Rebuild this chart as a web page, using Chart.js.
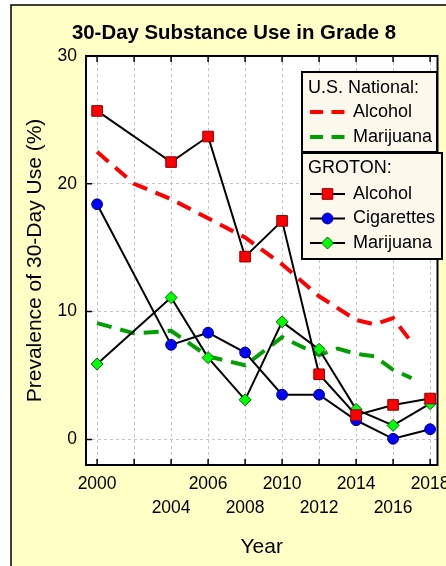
<!DOCTYPE html>
<html>
<head>
<meta charset="utf-8">
<script src="https://cdn.jsdelivr.net/npm/chart.js@4/dist/chart.umd.min.js"></script>
<style>
  html, body { margin: 0; padding: 0; overflow: hidden; background: #fff; }
  canvas { display: block; }
</style>
</head>
<body>
<canvas id="c" width="446" height="566"></canvas>
<script>
// ---- data ----
const grotonYears = [2000, 2004, 2006, 2008, 2010, 2012, 2014, 2016, 2018];
const grotonAlcohol = [25.7, 21.7, 23.7, 14.3, 17.1, 5.1, 1.9, 2.7, 3.2];
const grotonCigarettes = [18.4, 7.4, 8.35, 6.8, 3.5, 3.5, 1.5, 0.05, 0.8];
const grotonMarijuana = [5.9, 11.1, 6.4, 3.1, 9.2, 7.05, 2.35, 1.1, 2.8];

const nationalAlcoholYears = [2000, 2002, 2004, 2006, 2008, 2010, 2012, 2014, 2015, 2016, 2017];
const nationalAlcohol = [22.5, 20.0, 18.8, 17.3, 15.8, 13.7, 11.2, 9.35, 9.0, 9.5, 7.6];
const nationalMarijuanaYears = [2000, 2002, 2004, 2006, 2008, 2010, 2012, 2013, 2014, 2015, 2016, 2017];
const nationalMarijuana = [9.1, 8.3, 8.5, 6.5, 5.8, 8.0, 6.6, 7.1, 6.7, 6.5, 5.45, 4.8];

const xTickYears = [2000, 2002, 2004, 2006, 2008, 2010, 2012, 2014, 2016, 2018];
const xLabelsRow1 = ['2000', '2006', '2010', '2014', '2018'];
const xLabelsRow2 = ['2004', '2008', '2012', '2016'];
const yTickValues = [0, 10, 20, 30];

const legendHeaders = ['U.S. National:', 'GROTON:'];
const chartTitle = '30-Day Substance Use in Grade 8';
const xTitle = 'Year';
const yTitle = 'Prevalence of 30-Day Use (%)';

const pts = (xs, ys) => xs.map((x, i) => ({ x: x, y: ys[i] }));

Chart.defaults.font.family = '"Liberation Sans", Arial, sans-serif';
Chart.defaults.color = '#000';

const FONT = '"Liberation Sans", Arial, sans-serif';

const bgPlugin = {
  id: 'bg',
  beforeDraw(chart) {
    const ctx = chart.ctx, a = chart.chartArea;
    ctx.save();
    ctx.fillStyle = '#ffffff';
    ctx.fillRect(0, 0, chart.width, chart.height);
    ctx.fillStyle = '#ffffc6';
    ctx.fillRect(11, 5, chart.width, chart.height);
    ctx.strokeStyle = '#000';
    ctx.lineWidth = 1.5;
    ctx.beginPath();
    ctx.moveTo(11, chart.height + 5);
    ctx.lineTo(11, 5);
    ctx.lineTo(chart.width + 5, 5);
    ctx.stroke();
    ctx.fillStyle = '#ffffff';
    ctx.fillRect(a.left, a.top, a.right - a.left, a.bottom - a.top);
    ctx.restore();
  }
};

const frameLegendPlugin = {
  id: 'frameLegend',
  afterDraw(chart) {
    const ctx = chart.ctx, a = chart.chartArea;
    const xs = chart.scales.x, ys = chart.scales.y;
    ctx.save();
    // inner ticks
    ctx.strokeStyle = '#000';
    ctx.lineWidth = 1.5;
    ctx.beginPath();
    xs.ticks.forEach(t => {
      const px = xs.getPixelForValue(t.value);
      ctx.moveTo(px, a.bottom); ctx.lineTo(px, a.bottom - 6);
      ctx.moveTo(px, a.top); ctx.lineTo(px, a.top + 6);
    });
    ys.ticks.forEach(t => {
      const py = ys.getPixelForValue(t.value);
      ctx.moveTo(a.left, py); ctx.lineTo(a.left + 6, py);
    });
    ctx.stroke();
    // frame
    ctx.lineWidth = 2;
    ctx.strokeRect(a.left, a.top, a.right - a.left, a.bottom - a.top);

    // legend
    const ds = chart.data.datasets;
    const nat = ds.filter(d => d.group === 'national');
    const gro = ds.filter(d => d.group === 'groton');
    const bx = 302;
    ctx.font = '18px ' + FONT;
    ctx.textBaseline = 'middle';
    ctx.textAlign = 'left';

    // box 1
    ctx.fillStyle = '#fcf8ec';
    ctx.fillRect(bx, 72, 135, 80);
    ctx.lineWidth = 2;
    ctx.strokeStyle = '#000';
    ctx.strokeRect(bx, 72, 135, 80);
    ctx.fillStyle = '#000';
    ctx.fillText(legendHeaders[0], 308, 88);
    nat.forEach((d, i) => {
      const y = 112 + i * 25;
      ctx.save();
      ctx.strokeStyle = d.borderColor;
      ctx.lineWidth = d.borderWidth;
      ctx.setLineDash([13, 8.5]);
      ctx.beginPath(); ctx.moveTo(310, y); ctx.lineTo(345, y); ctx.stroke();
      ctx.restore();
      ctx.fillStyle = '#000';
      ctx.fillText(d.label, 353, y);
    });

    // box 2
    ctx.fillStyle = '#fcf8ec';
    ctx.fillRect(bx, 153, 140, 106);
    ctx.strokeStyle = '#000';
    ctx.lineWidth = 2;
    ctx.strokeRect(bx, 153, 140, 106);
    ctx.fillStyle = '#000';
    ctx.fillText(legendHeaders[1], 308, 168);
    gro.forEach((d, i) => {
      const y = 194 + i * 24.5;
      const cx = 327.5;
      ctx.strokeStyle = '#000';
      ctx.lineWidth = 2;
      ctx.beginPath(); ctx.moveTo(310, y); ctx.lineTo(345, y); ctx.stroke();
      ctx.fillStyle = d.pointBackgroundColor;
      ctx.strokeStyle = d.pointBorderColor;
      ctx.lineWidth = 1;
      ctx.beginPath();
      const r = d.pointRadius;
      if (d.pointStyle === 'rect') {
        const s = r * Math.SQRT1_2;
        ctx.rect(cx - s, y - s, 2 * s, 2 * s);
      } else if (d.pointStyle === 'circle') {
        ctx.arc(cx, y, r, 0, Math.PI * 2);
      } else {
        ctx.moveTo(cx - r, y); ctx.lineTo(cx, y - r); ctx.lineTo(cx + r, y); ctx.lineTo(cx, y + r); ctx.closePath();
      }
      ctx.fill(); ctx.stroke();
      ctx.fillStyle = '#000';
      ctx.fillText(d.label, 353, y);
    });
    ctx.restore();
  }
};

new Chart(document.getElementById('c'), {
  type: 'line',
  data: {
    datasets: [
      { label: 'Alcohol', group: 'groton', data: pts(grotonYears, grotonAlcohol),
        borderColor: '#000', borderWidth: 2, pointStyle: 'rect', pointRadius: 7.5,
        pointBackgroundColor: '#ff0000', pointBorderColor: '#8b0000', pointBorderWidth: 1, tension: 0 },
      { label: 'Cigarettes', group: 'groton', data: pts(grotonYears, grotonCigarettes),
        borderColor: '#000', borderWidth: 2, pointStyle: 'circle', pointRadius: 5.4,
        pointBackgroundColor: '#0000ff', pointBorderColor: '#000080', pointBorderWidth: 1, tension: 0 },
      { label: 'Marijuana', group: 'groton', data: pts(grotonYears, grotonMarijuana),
        borderColor: '#000', borderWidth: 2, pointStyle: 'rectRot', pointRadius: 6,
        pointBackgroundColor: '#00ff00', pointBorderColor: '#006400', pointBorderWidth: 1, tension: 0 },
      { label: 'Alcohol', group: 'national', data: pts(nationalAlcoholYears, nationalAlcohol),
        borderColor: '#ff0000', borderWidth: 4, borderDash: [15, 9], pointRadius: 0, tension: 0 },
      { label: 'Marijuana', group: 'national', data: pts(nationalMarijuanaYears, nationalMarijuana),
        borderColor: '#00a000', borderWidth: 4, borderDash: [15, 9], pointRadius: 0, tension: 0 }
    ]
  },
  options: {
    responsive: false,
    animation: false,
    devicePixelRatio: 1,
    layout: { padding: { left: 24, right: 2, top: 0, bottom: 0 } },
    plugins: {
      legend: { display: false },
      tooltip: { enabled: false },
      title: {
        display: true, text: chartTitle, color: '#000',
        font: { size: 20.4, weight: 'bold', lineHeight: 1.2 },
        padding: { top: 21, bottom: 10.5 }
      }
    },
    scales: {
      x: {
        type: 'linear', min: 1999.4, max: 2018.4,
        afterBuildTicks: s => { s.ticks = xTickYears.map(v => ({ value: v })); },
        afterFit: s => { s.height = 101; s.paddingLeft = 0; s.paddingRight = 0; },
        ticks: {
          autoSkip: false, maxRotation: 0, minRotation: 0, padding: 7, color: '#000',
          font: { size: 17.5, lineHeight: 1.371 },
          callback: v => {
            const s = String(v);
            if (xLabelsRow1.includes(s)) return [s, ''];
            if (xLabelsRow2.includes(s)) return ['', s];
            return ['', ''];
          }
        },
        grid: { color: '#c4c4c4', lineWidth: 1, drawTicks: false },
        border: { display: false, dash: [3, 3] },
        title: { display: true, text: xTitle, color: '#000', font: { size: 21, lineHeight: 1.2 }, padding: { top: 0, bottom: 6.4 } }
      },
      y: {
        type: 'linear', min: -2, max: 30,
        afterBuildTicks: s => { s.ticks = yTickValues.map(v => ({ value: v })); },
        afterFit: s => { s.width = 62; s.paddingTop = 0; s.paddingBottom = 0; },
        ticks: { padding: 9, color: '#000', font: { size: 17.5 } },
        grid: { color: '#c4c4c4', lineWidth: 1, drawTicks: false },
        border: { display: false, dash: [3, 3] },
        title: { display: true, text: yTitle, color: '#000', font: { size: 21, lineHeight: 1.2 }, padding: { top: -1.5, bottom: 0 } }
      }
    }
  },
  plugins: [bgPlugin, frameLegendPlugin]
});
</script>
</body>
</html>
